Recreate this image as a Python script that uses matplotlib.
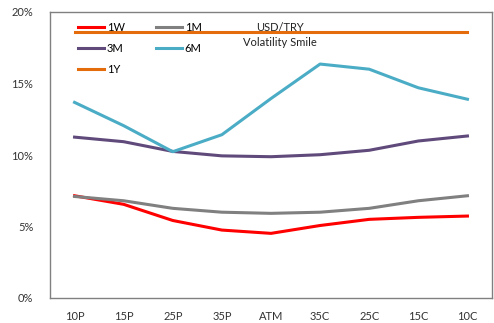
import numpy as np
import matplotlib
matplotlib.use("Agg")
import matplotlib.pyplot as plt
from matplotlib.ticker import FuncFormatter

plt.rcParams['font.family'] = ['Lato', 'DejaVu Sans']

strikes = ['10P', '15P', '25P', '35P', 'ATM', '35C', '25C', '15C', '10C']
vol_1w = [7.15, 6.55, 5.42, 4.75, 4.52, 5.07, 5.5, 5.64, 5.73]
vol_1m = [7.1, 6.8, 6.27, 6.0, 5.92, 6.0, 6.27, 6.8, 7.15]
vol_3m = [11.25, 10.93, 10.25, 9.94, 9.88, 10.02, 10.33, 10.98, 11.33]
vol_6m = [13.68, 12.05, 10.23, 11.42, 13.95, 16.36, 16.0, 14.7, 13.9]
vol_1y = [18.6] * 9

fig = plt.figure(figsize=(4.94, 3.23), dpi=100)
ax = fig.add_axes([50/494, 25/323, 442/494, 286/323])

x = np.arange(len(strikes))
lw = 2.2
l1w, = ax.plot(x, vol_1w, color='#FF0000', lw=lw, label='1W')
l1m, = ax.plot(x, vol_1m, color='#808080', lw=lw, label='1M')
l3m, = ax.plot(x, vol_3m, color='#604A7B', lw=lw, label='3M')
l6m, = ax.plot(x, vol_6m, color='#4BACC6', lw=lw, label='6M')
l1y, = ax.plot(x, vol_1y, color='#E46C0A', lw=lw, label='1Y')

ax.set_xlim(-0.5, len(strikes) - 0.5)
ax.set_ylim(0, 20)
ax.set_yticks([0, 5, 10, 15, 20])
ax.yaxis.set_major_formatter(FuncFormatter(lambda v, p: f'{v:.0f}%'))
ax.set_xticks(x)
ax.set_xticklabels(strikes)
ax.tick_params(length=0, labelsize=8, colors='#333333')
ax.tick_params(axis='x', pad=9)
ax.tick_params(axis='y', pad=12)
for s in ax.spines.values():
    s.set_color('#808080')
    s.set_linewidth(1)

ax.text(0.52, 0.92, 'USD/TRY\nVolatility Smile', transform=ax.transAxes,
        ha='center', va='center', fontsize=8, color='#222222', linespacing=1.5)

# legend filled row by row like the original
handles = [l1w, l3m, l1y, l1m, l6m]
ax.legend(handles, [h.get_label() for h in handles],
          loc='upper left', bbox_to_anchor=(0.04, 1.0), ncol=2, frameon=False,
          fontsize=8, handlelength=2.4, handletextpad=0.2, columnspacing=2.8,
          labelspacing=0.9)

fig.savefig('out.png', dpi=100)
